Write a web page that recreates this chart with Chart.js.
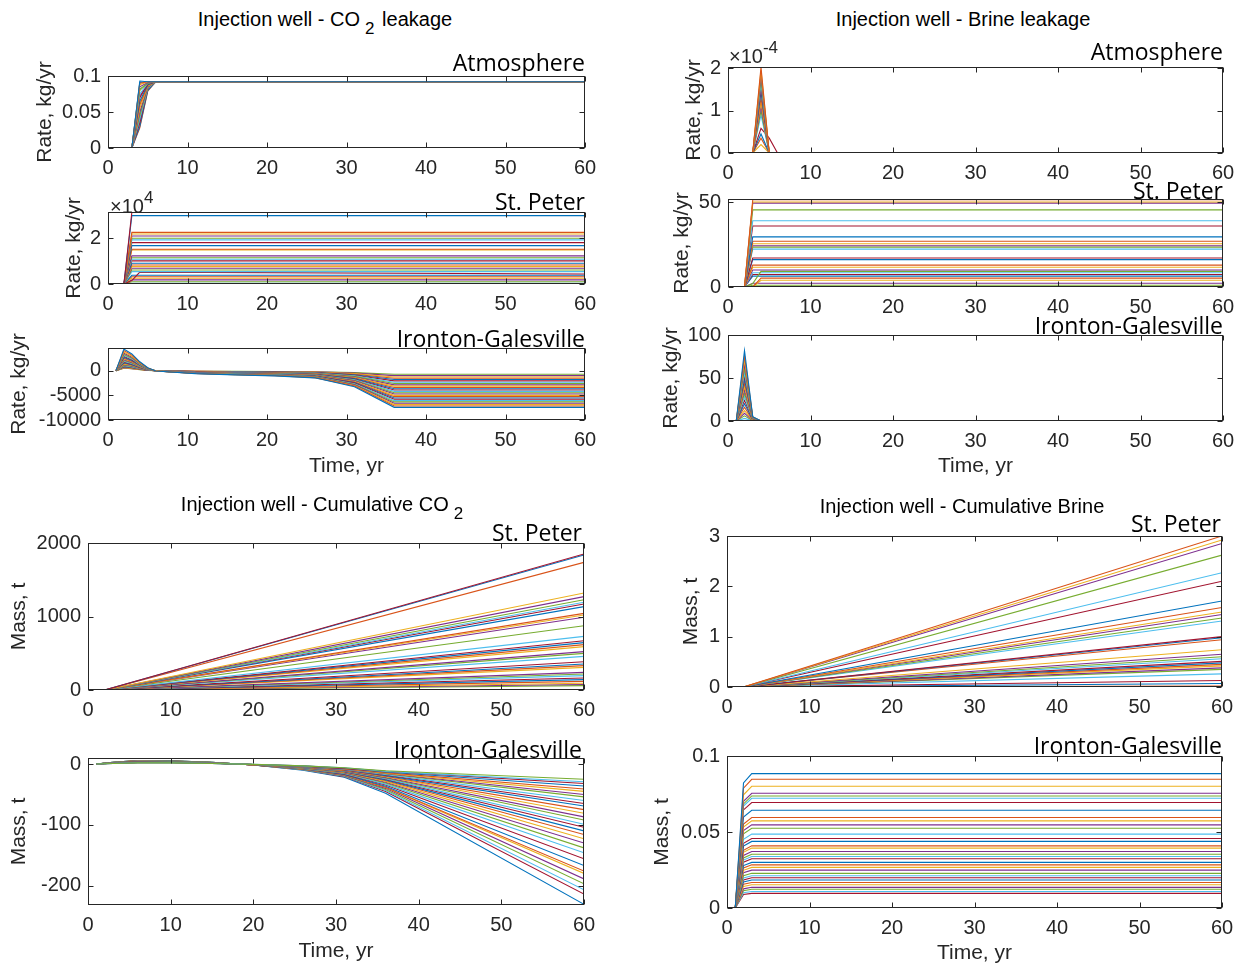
<!DOCTYPE html>
<html><head><meta charset="utf-8">
<script src="https://cdn.jsdelivr.net/npm/chart.js@4.4.1/dist/chart.umd.min.js"></script>
<style>
html,body{margin:0;padding:0;background:#fff;}
body{width:1244px;height:967px;position:relative;overflow:hidden;font-family:"Liberation Sans",Arial,sans-serif;}
canvas{position:absolute;}
.gt{position:absolute;z-index:5;font-size:20px;line-height:24px;color:#000;white-space:nowrap;transform:translate(-50%,-50%);}
.gt sub{font-size:0.85em;line-height:0;vertical-align:-0.45em;margin-left:5px;margin-right:2px;}
.pn{position:absolute;z-index:5;font-family:"Open Sans",sans-serif;font-size:23px;color:#000;white-space:nowrap;transform:translate(-100%,-50%);line-height:1;}
.mult{position:absolute;z-index:5;font-size:20px;color:#262626;white-space:nowrap;transform:translateY(-50%);}
.mult sup{font-size:0.85em;vertical-align:0.6em;}
</style>
</head><body>
<div class="gt" style="left:325px;top:19px">Injection well - CO<sub>2</sub> leakage</div>
<div class="gt" style="left:963px;top:19px">Injection well - Brine leakage</div>
<div class="gt" style="left:323px;top:504px">Injection well - Cumulative CO<sub>2</sub></div>
<div class="gt" style="left:962px;top:506px">Injection well - Cumulative Brine</div>

<div class="pn" style="left:585px;top:62px">Atmosphere</div>
<div class="pn" style="left:585px;top:201px">St. Peter</div>
<div class="pn" style="left:585px;top:338px">Ironton-Galesville</div>
<div class="pn" style="left:1223px;top:51px">Atmosphere</div>
<div class="pn" style="left:1223px;top:190px">St. Peter</div>
<div class="pn" style="left:1223px;top:325px">Ironton-Galesville</div>
<div class="pn" style="left:582px;top:532px">St. Peter</div>
<div class="pn" style="left:582px;top:749px">Ironton-Galesville</div>
<div class="pn" style="left:1221px;top:523px">St. Peter</div>
<div class="pn" style="left:1222px;top:745px">Ironton-Galesville</div>

<div class="mult" style="left:110px;top:203px">&times;10<sup>4</sup></div>
<div class="mult" style="left:729px;top:53px">&times;10<sup>-4</sup></div>

<script>
// ---------------- DATA ----------------
const xTickValues = [0, 10, 20, 30, 40, 50, 60];
const xTickLabels = ['0', '10', '20', '30', '40', '50', '60'];

// CO2 leakage rate - Atmosphere (kg/yr)
const co2AtmTimes = [1, 2, 3, 4, 5, 6, 60];
const co2AtmSeries = [
  [0,0,0,0.093,0.092,0.092,0.092],
  [0,0,0,0.090,0.092,0.092,0.092],
  [0,0,0,0.088,0.092,0.092,0.092],
  [0,0,0,0.085,0.091,0.092,0.092],
  [0,0,0,0.080,0.090,0.092,0.092],
  [0,0,0,0.075,0.090,0.092,0.092],
  [0,0,0,0.070,0.089,0.092,0.092],
  [0,0,0,0.065,0.088,0.092,0.092],
  [0,0,0,0.060,0.087,0.092,0.092],
  [0,0,0,0.055,0.086,0.092,0.092],
  [0,0,0,0.050,0.085,0.092,0.092],
  [0,0,0,0.045,0.084,0.092,0.092],
  [0,0,0,0.040,0.083,0.092,0.092],
  [0,0,0,0.035,0.082,0.092,0.092],
  [0,0,0,0.030,0.080,0.092,0.092],
  [0,0,0,0.028,0.079,0.092,0.092],
  [0,0,0,0.062,0.088,0.092,0.092],
  [0,0,0,0.072,0.089,0.092,0.092],
  [0,0,0,0.082,0.090,0.092,0.092],
  [0,0,0,0.047,0.085,0.092,0.092],
  [0,0,0,0.038,0.081,0.092,0.092],
  [0,0,0,0.091,0.092,0.092,0.092]
];
const co2AtmYTicks = [0, 0.05, 0.1];
const co2AtmYLabels = ['0', '0.05', '0.1'];

// CO2 leakage rate - St. Peter (kg/yr)
const co2StpTimes = [1, 2, 3, 4, 60];
const co2StpSeries = [
  [0,0,31400,31400,31400],[0,0,29900,29900,29900],[0,0,22600,22600,22600],
  [0,0,21900,21900,21900],[0,0,21000,21000,21000],[0,0,20000,20000,20000],
  [0,0,19300,19300,19300],[0,0,18100,18100,18100],[0,0,16800,16800,16800],
  [0,0,15200,15200,15200],[0,0,14900,14900,14900],[0,0,12300,12300,12300],
  [0,0,11500,11500,11500],[0,0,10800,10800,10800],[0,0,10100,10100,10100],
  [0,0,9100,9100,9100],[0,0,8300,8300,8300],[0,0,7600,7600,7600],
  [0,0,6900,6900,6900],[0,0,6100,6100,6100],[0,0,5400,5400,5400],
  [0,0,1500,5200,4400],[0,0,3800,3800,3800],[0,0,3200,3200,3200],
  [0,0,2500,2500,2500],[0,0,1800,1800,1800],[0,0,1000,1000,1000],
  [0,0,300,300,300]
];
const co2StpYTicks = [0, 20000];
const co2StpYLabels = ['0', '2'];

// CO2 leakage rate - Ironton-Galesville (kg/yr)
const co2IgTimes = [1, 2, 3, 4, 5, 6, 11, 16, 21, 26, 31, 36, 60];
const co2IgSeries = [
  [0,4400,3400,1800,600,-50,-600,-850,-1050,-1450,-3250,-7430,-7430],
  [0,4100,3150,1680,560,-50,-580,-820,-1010,-1400,-3120,-7150,-7150],
  [0,3800,2930,1560,520,-45,-560,-790,-970,-1350,-3000,-6880,-6880],
  [0,3550,2730,1460,490,-45,-540,-760,-930,-1300,-2880,-6600,-6600],
  [0,3300,2540,1350,450,-40,-510,-720,-890,-1240,-2750,-6330,-6330],
  [0,3100,2390,1270,420,-40,-490,-690,-850,-1190,-2640,-6070,-6070],
  [0,2900,2230,1190,400,-40,-470,-660,-810,-1140,-2520,-5800,-5800],
  [0,2700,2080,1110,370,-35,-450,-630,-780,-1090,-2400,-5530,-5530],
  [0,2500,1930,1030,340,-35,-430,-600,-740,-1040,-2290,-5270,-5270],
  [0,2350,1810,960,320,-35,-410,-570,-710,-990,-2180,-5000,-5000],
  [0,2200,1690,900,300,-30,-390,-540,-670,-940,-2060,-4730,-4730],
  [0,2050,1580,840,280,-30,-370,-510,-640,-890,-1950,-4470,-4470],
  [0,1900,1460,780,260,-30,-350,-490,-600,-840,-1840,-4200,-4200],
  [0,1750,1350,720,240,-25,-330,-460,-570,-790,-1720,-3930,-3930],
  [0,1600,1230,660,220,-25,-310,-430,-530,-740,-1610,-3670,-3670],
  [0,1500,1160,620,200,-25,-290,-400,-500,-690,-1500,-3400,-3400],
  [0,1350,1040,550,180,-20,-270,-380,-460,-640,-1380,-3130,-3130],
  [0,1250,960,510,170,-20,-250,-350,-430,-590,-1270,-2870,-2870],
  [0,1100,850,450,150,-20,-230,-320,-400,-540,-1160,-2600,-2600],
  [0,1000,770,410,140,-15,-210,-290,-360,-490,-1050,-2330,-2330],
  [0,900,690,370,120,-15,-190,-260,-330,-440,-930,-2070,-2070],
  [0,800,620,330,110,-15,-170,-240,-290,-390,-820,-1800,-1800],
  [0,700,540,290,100,-10,-150,-210,-260,-340,-710,-1530,-1530],
  [0,600,460,250,80,-10,-130,-180,-230,-290,-600,-1270,-1270],
  [0,550,420,230,75,-10,-110,-160,-200,-250,-500,-1000,-1000],
  [0,500,390,210,70,-10,-100,-140,-170,-210,-400,-720,-720]
];
const co2IgYTicks = [-10000, -5000, 0];
const co2IgYLabels = ['-10000', '-5000', '0'];

// Brine leakage rate - Atmosphere (kg/yr)
const brAtmTimes = [1, 2, 3, 4, 5, 6, 60];
const brAtmSeries = [
  [0,0,0,0,0,0,0],
  [0,0,0,2.02e-4,0,0,0],[0,0,0,1.95e-4,0,0,0],[0,0,0,1.85e-4,0,0,0],
  [0,0,0,1.75e-4,0,0,0],[0,0,0,1.65e-4,0,0,0],[0,0,0,1.55e-4,0,0,0],
  [0,0,0,1.45e-4,0,0,0],[0,0,0,1.30e-4,0,0,0],[0,0,0,1.20e-4,0,0,0],
  [0,0,0,1.10e-4,0,0,0],[0,0,0,1.00e-4,0,0,0],[0,0,0,0.90e-4,0,0,0],
  [0,0,0,0.58e-4,0.35e-4,0,0],[0,0,0,0.45e-4,0,0,0],[0,0,0,0.35e-4,0,0,0],
  [0,0,0,0.20e-4,0,0,0],
  [0,0,0,0,0,0,0],[0,0,0,0,0,0,0],[0,0,0,0,0,0,0],[0,0,0,0,0,0,0],[0,0,0,0,0,0,0]
];
const brAtmYTicks = [0, 1e-4, 2e-4];
const brAtmYLabels = ['0', '1', '2'];

// Brine leakage rate - St. Peter (kg/yr)
const brStpTimes = [1, 2, 3, 4, 60];
const brStpSeries = [
  [0,0,51.4,51.4,51.4],[0,0,50,50,50],[0,0,49.4,49.4,49.4],[0,0,45.4,45.4,45.4],
  [0,0,39,39,39],[0,0,35.9,35.9,35.9],[0,0,29.5,29.5,29.5],[0,0,26.9,26.9,26.9],
  [0,0,25.5,25.5,25.5],[0,0,24.3,24.3,24.3],[0,0,23.5,23.5,23.5],[0,0,22.3,22.3,22.3],
  [0,0,17.1,17.1,17.1],[0,0,16.1,16.1,16.1],[0,0,12.9,12.9,12.9],[0,0,11.6,11.6,11.6],
  [0,0,10,10,10],[0,0,2,9.2,9.2],[0,0,8.4,8.4,8.4],[0,0,7.4,7.4,7.4],
  [0,0,6.4,6.4,6.4],[0,0,0,5.2,5.2],[0,0,0,4,4],[0,0,2.2,2.2,2.2],
  [0,0,1,1,1],[0,0,0.2,0.2,0.2]
];
const brStpYTicks = [0, 50];
const brStpYLabels = ['0', '50'];

// Brine leakage rate - Ironton-Galesville (kg/yr)
const brIgTimes = [1, 2, 3, 4, 60];
const brIgSeries = [
  [0,82,4.9,0,0],[0,76,4.6,0,0],[0,71,4.3,0,0],[0,66,4.0,0,0],[0,61,3.7,0,0],
  [0,56,3.4,0,0],[0,52,3.1,0,0],[0,48,2.9,0,0],[0,44,2.6,0,0],[0,40,2.4,0,0],
  [0,36,2.2,0,0],[0,32,1.9,0,0],[0,28,1.7,0,0],[0,24,1.4,0,0],[0,20,1.2,0,0],
  [0,16,1.0,0,0],[0,12,0.7,0,0],[0,9,0.5,0,0],[0,6,0.4,0,0],[0,3,0.2,0,0]
];
const brIgYTicks = [0, 50, 100];
const brIgYLabels = ['0', '50', '100'];

// Cumulative CO2 - St. Peter (t)
const cumCo2StpTimes = [1, 2, 60];
const cumCo2StpSeries = [
  [0,0,1850],[0,0,1837],[0,0,1737],[0,0,1320],[0,0,1270],[0,0,1229],[0,0,1193],
  [0,0,1170],[0,0,1134],[0,0,1043],[0,0,1020],[0,0,989],[0,0,875],[0,0,730],
  [0,0,671],[0,0,644],[0,0,617],[0,0,590],[0,0,522],[0,0,499],[0,0,458],
  [0,0,385],[0,0,354],[0,0,331],[0,0,308],[0,0,240],[0,0,218],[0,0,195],
  [0,0,163],[0,0,141],[0,0,118],[0,0,91],[0,0,75],[0,0,60]
];
const cumCo2StpYTicks = [0, 1000, 2000];
const cumCo2StpYLabels = ['0', '1000', '2000'];

// Cumulative CO2 - Ironton-Galesville (t)
const cumCo2IgTimes = [1, 3, 6, 10, 15, 20, 26, 31, 36, 60];
const cumCo2IgSeries = [
  [0,1.0,2.0,2.0,1.0,-0.5,-3,-6,-11,-25],
  [0,1.1,2.1,2.1,1.1,-0.5,-3,-6,-12,-29],
  [0,1.1,2.3,2.2,1.1,-0.6,-3,-7,-12,-32],
  [0,1.2,2.4,2.3,1.2,-0.6,-3.4,-7,-13,-36],
  [0,1.3,2.5,2.5,1.3,-0.6,-3.5,-7.2,-14,-41],
  [0,1.3,2.6,2.6,1.3,-0.7,-3.7,-7.5,-15,-45],
  [0,1.4,2.8,2.7,1.4,-0.7,-3.8,-7.9,-15.5,-50],
  [0,1.5,2.9,2.8,1.5,-0.7,-4,-8.2,-16,-54],
  [0,1.5,3.0,2.9,1.5,-0.8,-4.2,-8.7,-17,-60],
  [0,1.6,3.2,3.0,1.6,-0.8,-4.4,-9.1,-18,-65],
  [0,1.6,3.3,3.2,1.6,-0.8,-4.5,-9.4,-19,-69],
  [0,1.7,3.4,3.3,1.7,-0.9,-4.7,-9.9,-20,-75],
  [0,1.8,3.5,3.4,1.8,-0.9,-4.9,-10.3,-21,-81],
  [0,1.8,3.7,3.5,1.8,-0.9,-5.1,-10.8,-22,-87],
  [0,1.9,3.8,3.6,1.9,-1.0,-5.3,-11.2,-23,-92],
  [0,2.0,3.9,3.7,2.0,-1.0,-5.5,-11.7,-24,-99],
  [0,2.0,4.0,3.8,2.0,-1.0,-5.7,-12.1,-25,-104],
  [0,2.1,4.2,4.0,2.1,-1.1,-5.9,-12.6,-26,-110],
  [0,2.2,4.3,4.1,2.2,-1.1,-6.1,-13,-27,-116],
  [0,2.2,4.4,4.2,2.2,-1.1,-6.3,-13.6,-28.5,-123],
  [0,2.3,4.6,4.3,2.3,-1.2,-6.5,-14.1,-30,-130],
  [0,2.4,4.7,4.4,2.4,-1.2,-6.8,-14.7,-31,-138],
  [0,2.4,4.8,4.5,2.4,-1.2,-7.1,-15.4,-33,-146],
  [0,2.5,5.0,4.6,2.5,-1.3,-7.4,-16.1,-34.5,-156],
  [0,2.5,5.1,4.8,2.5,-1.3,-7.8,-17,-36.4,-167],
  [0,2.6,5.2,4.9,2.6,-1.3,-8.1,-17.7,-38,-176],
  [0,2.7,5.3,5.0,2.7,-1.4,-8.2,-18,-38.7,-180],
  [0,2.7,5.5,5.1,2.7,-1.4,-8.5,-18.7,-40,-189],
  [0,2.8,5.6,5.2,2.8,-1.4,-8.8,-19.3,-42,-197],
  [0,2.9,5.7,5.3,2.9,-1.5,-9.2,-20.1,-43.6,-207],
  [0,2.9,5.9,5.4,2.9,-1.5,-9.4,-20.6,-45,-214],
  [0,3.0,6.0,5.5,3.0,-1.5,-9.9,-21.8,-48,-231]
];
const cumCo2IgYTicks = [-200, -100, 0];
const cumCo2IgYLabels = ['-200', '-100', '0'];

// Cumulative brine - St. Peter (t)
const cumBrStpTimes = [1, 2, 60];
const cumBrStpSeries = [
  [0,0,3.0],[0,0,2.92],[0,0,2.85],[0,0,2.62],[0,0,2.27],[0,0,2.10],[0,0,1.71],
  [0,0,1.58],[0,0,1.49],[0,0,1.44],[0,0,1.37],[0,0,1.31],[0,0,1.0],[0,0,0.98],
  [0,0,0.94],[0,0,0.74],[0,0,0.65],[0,0,0.60],[0,0,0.56],[0,0,0.51],[0,0,0.48],
  [0,0,0.45],[0,0,0.42],[0,0,0.38],[0,0,0.35],[0,0,0.26],[0,0,0.13],[0,0,0.07],
  [0,0,0.02],[0,0,0.005]
];
const cumBrStpYTicks = [0, 1, 2, 3];
const cumBrStpYLabels = ['0', '1', '2', '3'];

// Cumulative brine - Ironton-Galesville (t)
const cumBrIgTimes = [1, 2, 3, 60];
const cumBrIgSeries = [
  [0,0.0823,0.0884,0.0884],[0,0.0788,0.0847,0.0847],[0,0.0745,0.0801,0.0801],
  [0,0.0702,0.0755,0.0755],[0,0.0685,0.0737,0.0737],[0,0.0671,0.0722,0.0722],
  [0,0.0645,0.0694,0.0694],[0,0.0598,0.0643,0.0643],[0,0.0553,0.0595,0.0595],
  [0,0.0533,0.0573,0.0573],[0,0.0509,0.0547,0.0547],[0,0.0488,0.0525,0.0525],
  [0,0.0452,0.0486,0.0486],[0,0.0425,0.0457,0.0457],[0,0.0407,0.0438,0.0438],
  [0,0.0380,0.0409,0.0409],[0,0.0366,0.0394,0.0394],[0,0.0346,0.0372,0.0372],
  [0,0.0329,0.0354,0.0354],[0,0.0315,0.0339,0.0339],[0,0.0301,0.0324,0.0324],
  [0,0.0279,0.0300,0.0300],[0,0.0264,0.0284,0.0284],[0,0.0248,0.0267,0.0267],
  [0,0.0232,0.0249,0.0249],[0,0.0212,0.0228,0.0228],[0,0.0197,0.0212,0.0212],
  [0,0.0185,0.0199,0.0199],[0,0.0171,0.0184,0.0184],[0,0.0156,0.0168,0.0168],
  [0,0.0142,0.0153,0.0153],[0,0.0126,0.0136,0.0136],[0,0.0114,0.0123,0.0123],
  [0,0.0101,0.0109,0.0109],[0,0.0089,0.0096,0.0096]
];
const cumBrIgYTicks = [0, 0.05, 0.1];
const cumBrIgYLabels = ['0', '0.05', '0.1'];

// ---------------- STYLE / LAYOUT ----------------
const PALETTE = ['#0072BD','#D95319','#EDB120','#7E2F8E','#77AC30','#4DBEEE','#A2142F'];
const AXIS_COLOR = '#262626';
const TICK_FONT = {family: '"Liberation Sans", Arial, sans-serif', size: 20};
const TITLE_FONT = {family: '"Liberation Sans", Arial, sans-serif', size: 21};

const panels = [
  {times: co2AtmTimes, series: co2AtmSeries, box: [108, 76, 585, 148], yTitle: 'Rate, kg/yr', yTitleX: 46, yMin: 0, yMax: 0.1, yTicks: co2AtmYTicks, yLabels: co2AtmYLabels},
  {times: co2StpTimes, series: co2StpSeries, box: [108, 212, 585, 284], yTitle: 'Rate, kg/yr', yTitleX: 75, yMin: 0, yMax: 31500, yTicks: co2StpYTicks, yLabels: co2StpYLabels, colorShift: 6},
  {times: co2IgTimes, series: co2IgSeries, box: [108, 348, 585, 420], yTitle: 'Rate, kg/yr', yTitleX: 20, yMin: -10000, yMax: 4600, yTicks: co2IgYTicks, yLabels: co2IgYLabels, xTitleY: 466},
  {times: brAtmTimes, series: brAtmSeries, box: [728, 67, 1223, 153], yTitle: 'Rate, kg/yr', yTitleX: 695, yMin: 0, yMax: 2.03e-4, yTicks: brAtmYTicks, yLabels: brAtmYLabels},
  {times: brStpTimes, series: brStpSeries, box: [728, 199, 1223, 287], yTitle: 'Rate, kg/yr', yTitleX: 683, yMin: 0, yMax: 51.8, yTicks: brStpYTicks, yLabels: brStpYLabels, colorShift: 1},
  {times: brIgTimes, series: brIgSeries, box: [728, 335, 1223, 421], yTitle: 'Rate, kg/yr', yTitleX: 672, yMin: 0, yMax: 100, yTicks: brIgYTicks, yLabels: brIgYLabels, xTitleY: 466},
  {times: cumCo2StpTimes, series: cumCo2StpSeries, box: [88, 543, 584, 690], yTitle: 'Mass, t', yTitleX: 20, yMin: 0, yMax: 2000, yTicks: cumCo2StpYTicks, yLabels: cumCo2StpYLabels, colorShift: 6},
  {times: cumCo2IgTimes, series: cumCo2IgSeries, box: [88, 758, 584, 905], yTitle: 'Mass, t', yTitleX: 20, yMin: -232, yMax: 10, yTicks: cumCo2IgYTicks, yLabels: cumCo2IgYLabels, xTitleY: 951, colorShift: 4},
  {times: cumBrStpTimes, series: cumBrStpSeries, box: [727, 536, 1222, 687], yTitle: 'Mass, t', yTitleX: 692, yMin: 0, yMax: 3, yTicks: cumBrStpYTicks, yLabels: cumBrStpYLabels, colorShift: 1},
  {times: cumBrIgTimes, series: cumBrIgSeries, box: [727, 756, 1222, 908], yTitle: 'Mass, t', yTitleX: 663, yMin: 0, yMax: 0.1, yTicks: cumBrIgYTicks, yLabels: cumBrIgYLabels, xTitleY: 953}
];

const boxPlugin = {
  id: 'matlabBox',
  afterDatasetsDraw(chart) {
    const {ctx, chartArea: a, scales: {x, y}} = chart;
    const L = Math.round(a.left) + 0.5, R = Math.round(a.right) - 0.5;
    const T = Math.round(a.top) + 0.5, B = Math.round(a.bottom) - 0.5;
    ctx.save();
    ctx.strokeStyle = AXIS_COLOR;
    ctx.lineWidth = 1;
    ctx.strokeRect(L, T, R - L, B - T);
    const tl = 5;
    ctx.beginPath();
    x.ticks.forEach(t => {
      const px = Math.round(x.getPixelForValue(t.value)) + 0.5;
      ctx.moveTo(px, B); ctx.lineTo(px, B - tl);
      ctx.moveTo(px, T); ctx.lineTo(px, T + tl);
    });
    y.ticks.forEach(t => {
      const py = Math.round(y.getPixelForValue(t.value)) + 0.5;
      ctx.moveTo(L, py); ctx.lineTo(L + tl, py);
      ctx.moveTo(R, py); ctx.lineTo(R - tl, py);
    });
    ctx.stroke();
    ctx.restore();
  }
};

function makePanel(p) {
  const [l, t, r, b] = p.box;
  const padT = 30, padR = 30;
  const cLeft = Math.round(p.yTitleX - 12.6);
  const yw = l - cLeft;
  const xh = p.xTitleY ? Math.round(p.xTitleY + 12.6 - b) : 36;
  const W = r + padR - cLeft, H = padT + (b - t) + xh;
  const cv = document.createElement('canvas');
  cv.width = W; cv.height = H;
  cv.style.left = cLeft + 'px'; cv.style.top = (t - padT) + 'px';
  cv.style.width = W + 'px'; cv.style.height = H + 'px';
  document.body.appendChild(cv);
  const shift = p.colorShift || 0;
  const datasets = p.series.map((s, i) => ({
    data: p.times.map((tm, k) => ({x: tm, y: s[k]})),
    borderColor: PALETTE[(i + shift) % PALETTE.length],
    borderWidth: 1.1,
    pointRadius: 0,
    fill: false,
    tension: 0
  }));
  new Chart(cv, {
    type: 'line',
    data: {datasets},
    options: {
      responsive: false,
      animation: false,
      devicePixelRatio: 1,
      events: [],
      layout: {padding: {top: padT, right: padR, left: 0, bottom: 0}},
      plugins: {legend: {display: false}, tooltip: {enabled: false}, title: {display: false}},
      scales: {
        x: {
          type: 'linear', min: 0, max: 60,
          afterBuildTicks: s => { s.ticks = xTickValues.map(v => ({value: v})); },
          afterFit: s => { s.height = xh; },
          ticks: {callback: (v, i) => xTickLabels[i], color: AXIS_COLOR, font: TICK_FONT, padding: 8, maxRotation: 0, autoSkip: false},
          grid: {display: false, drawTicks: false},
          border: {display: false},
          title: {display: !!p.xTitleY, text: 'Time, yr', color: AXIS_COLOR, font: TITLE_FONT, padding: 0}
        },
        y: {
          type: 'linear', min: p.yMin, max: p.yMax,
          afterBuildTicks: s => { s.ticks = p.yTicks.map(v => ({value: v})); },
          afterFit: s => { s.width = yw; },
          ticks: {callback: (v, i) => p.yLabels[i], color: AXIS_COLOR, font: TICK_FONT, padding: 7, autoSkip: false},
          grid: {display: false, drawTicks: false},
          border: {display: false},
          title: {display: true, text: p.yTitle, color: AXIS_COLOR, font: TITLE_FONT, padding: 0}
        }
      }
    },
    plugins: [boxPlugin]
  });
}

panels.forEach(makePanel);
</script>
</body></html>
